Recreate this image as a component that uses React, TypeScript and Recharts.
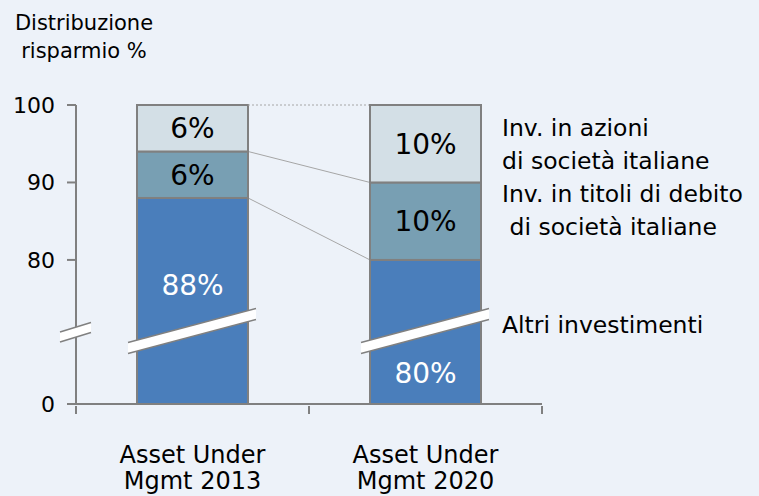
import React from 'react';
import { BarChart, Bar, XAxis, YAxis, LabelList } from 'recharts';

const categories = ['Asset Under\nMgmt 2013', 'Asset Under\nMgmt 2020'];
const altriInvestimenti = [88, 80];
const titoliDebito = [6, 10];
const azioniItaliane = [6, 10];
const yTicks = [0, 80, 90, 100];
const seriesNames = {
  altri: 'Altri investimenti',
  debito: 'Inv. in titoli di debito\n di società italiane',
  azioni: 'Inv. in azioni\ndi società italiane',
};

// broken axis: 0..80 is squeezed into LOW_SPAN units, above 80 the scale is linear
const BREAK_AT = 80;
const LOW_SPAN = 18.6;
const toAxis = (v: number) => (v >= BREAK_AT ? v - BREAK_AT + LOW_SPAN : (v * LOW_SPAN) / BREAK_AT);

const data = categories.map((name, i) => {
  const a = altriInvestimenti[i];
  const d = a + titoliDebito[i];
  const z = d + azioniItaliane[i];
  return {
    name,
    altri: toAxis(a),
    debito: toAxis(d) - toAxis(a),
    azioni: toAxis(z) - toAxis(d),
    altriPct: `${altriInvestimenti[i]}%`,
    debitoPct: `${titoliDebito[i]}%`,
    azioniPct: `${azioniItaliane[i]}%`,
    altriName: seriesNames.altri,
    debitoName: seriesNames.debito,
    azioniName: seriesNames.azioni,
  };
});

const FONT = '"DejaVu Sans", "Liberation Sans", Arial, sans-serif';
const EDGE = '#808080';
const Y_TICK_SIZE = 9;
const Y_TICK_MARGIN = 12;
const X_TICK_OFFSET = 8; // default tickSize + tickMargin of the x axis

// remembers the previous bar of each series so the next one can draw the connector
const prevBar: Record<string, { x: number; y: number; w: number }> = {};

function makeShape(key: string, fill: string, dashed: boolean, withBreak: boolean) {
  return (props: any) => {
    const { x, y, width, height } = props;
    const idx = props.index ?? 0;
    const prev = prevBar[key];
    prevBar[key] = { x, y, w: width };
    const bottom = y + height;
    const lx = x - 9;
    const rx = x + width + 8;
    const ly = bottom - 56;
    const ry = bottom - 90;
    const h = 5.5;
    return (
      <g>
        {idx > 0 && prev && (
          <line
            x1={prev.x + prev.w}
            y1={prev.y}
            x2={x}
            y2={y}
            stroke="#a6a6a6"
            strokeWidth={1}
            strokeDasharray={dashed ? '2 2' : undefined}
          />
        )}
        <rect x={x} y={y} width={width} height={height} fill={fill} stroke={EDGE} strokeWidth={2} />
        {withBreak && (
          <g>
            <polygon points={`${lx},${ly - h} ${rx},${ry - h} ${rx},${ry + h} ${lx},${ly + h}`} fill="#ffffff" />
            <line x1={lx} y1={ly - h} x2={rx} y2={ry - h} stroke={EDGE} strokeWidth={1.5} />
            <line x1={lx} y1={ly + h} x2={rx} y2={ry + h} stroke={EDGE} strokeWidth={1.5} />
          </g>
        )}
      </g>
    );
  };
}

const box = (props: any) => {
  const vb = props.viewBox || {};
  return {
    x: props.x ?? vb.x,
    y: props.y ?? vb.y,
    width: props.width ?? vb.width,
    height: props.height ?? vb.height,
  };
};

const centerLabel = (color: string) => (props: any) => {
  const { x, y, width, height } = box(props);
  return (
    <text x={x + width / 2} y={y + height / 2} dy="0.36em" textAnchor="middle" fill={color} fontSize={28} fontFamily={FONT}>
      {props.value}
    </text>
  );
};

const bottomLabel = (props: any) => {
  const { x, y, width, height } = box(props);
  const idx = props.index ?? 0;
  // first bar: label above the break, second bar: below it
  const baseY = idx === 0 ? y + 97 : y + height - 21;
  return (
    <text x={x + width / 2} y={baseY} textAnchor="middle" fill="#ffffff" fontSize={28} fontFamily={FONT}>
      {props.value}
    </text>
  );
};

const sideLabel = (anchor: 'center' | 'top', dy: number) => (props: any) => {
  const idx = props.index ?? 0;
  if (idx !== categories.length - 1) return null;
  const { x, y, width, height } = box(props);
  const lines = String(props.value).split('\n');
  const base = anchor === 'center' ? y + height / 2 + dy : y + dy;
  return (
    <text x={x + width + 21} y={base} fill="#000" fontSize={23.5} fontFamily={FONT} style={{ whiteSpace: 'pre' }}>
      {lines.map((l, i) => (
        <tspan key={i} x={x + width + 21} y={base + i * 33}>
          {l}
        </tspan>
      ))}
    </text>
  );
};

const YTick = (props: any) => {
  const { x, y, payload, index } = props;
  const label = yTicks[index] ?? '';
  const axisX = x + Y_TICK_SIZE + Y_TICK_MARGIN;
  const lx = axisX - 16;
  const rx = axisX + 15;
  const ly = y - 67;
  const ry = y - 76.5;
  const h = 5;
  return (
    <g>
      <text x={x} y={y} dy="0.36em" textAnchor="end" fill="#000" fontSize={22} fontFamily={FONT}>
        {label}
      </text>
      {index === 0 && payload && (
        <g>
          <polygon points={`${lx},${ly - h} ${rx},${ry - h} ${rx},${ry + h} ${lx},${ly + h}`} fill="#ffffff" />
          <line x1={lx} y1={ly - h} x2={rx} y2={ry - h} stroke={EDGE} strokeWidth={1.5} />
          <line x1={lx} y1={ly + h} x2={rx} y2={ry + h} stroke={EDGE} strokeWidth={1.5} />
        </g>
      )}
    </g>
  );
};

const XTick = (props: any) => {
  const { x, y, payload, index, width, visibleTicksCount } = props;
  const half = width && visibleTicksCount ? width / visibleTicksCount / 2 : 116.5;
  const lines = String(payload.value).split('\n');
  const axisY = y - X_TICK_OFFSET;
  return (
    <g>
      {index === 0 && <line x1={x - half} y1={axisY + 2} x2={x - half} y2={axisY + 10} stroke={EDGE} strokeWidth={2} />}
      <line x1={x + half} y1={axisY + 2} x2={x + half} y2={axisY + 10} stroke={EDGE} strokeWidth={2} />
      <text textAnchor="middle" fill="#000" fontSize={24} fontFamily={FONT}>
        {lines.map((l, i) => (
          <tspan key={i} x={x} y={axisY + 59 + i * 26}>
            {l}
          </tspan>
        ))}
      </text>
    </g>
  );
};

export default function App() {
  return (
    <div
      style={{
        position: 'absolute',
        left: 0,
        top: 0,
        width: 759,
        height: 496,
        background: '#edf2f9',
        fontFamily: FONT,
        overflow: 'hidden',
      }}
    >
      <div
        style={{
          position: 'absolute',
          left: 0,
          top: 9,
          width: 168,
          textAlign: 'center',
          fontSize: 21,
          lineHeight: '28px',
          color: '#000',
        }}
      >
        Distribuzione
        <br />
        risparmio %
      </div>
      <BarChart width={759} height={496} data={data} margin={{ top: 105, right: 217, bottom: 12, left: 16 }}>
        <XAxis
          dataKey="name"
          height={80}
          axisLine={{ stroke: EDGE, strokeWidth: 2 }}
          tickLine={false}
          tick={<XTick />}
          interval={0}
        />
        <YAxis
          type="number"
          width={60}
          domain={[0, toAxis(100)]}
          ticks={yTicks.map(toAxis)}
          interval={0}
          tickSize={Y_TICK_SIZE}
          tickMargin={Y_TICK_MARGIN}
          axisLine={{ stroke: EDGE, strokeWidth: 2 }}
          tickLine={{ stroke: EDGE, strokeWidth: 2 }}
          tick={<YTick />}
        />
        <Bar
          dataKey="altri"
          stackId="s"
          barSize={111}
          fill="#4a7ebb"
          isAnimationActive={false}
          shape={makeShape('altri', '#4a7ebb', false, true)}
        >
          <LabelList dataKey="altriPct" content={bottomLabel} />
          <LabelList dataKey="altriName" content={sideLabel('top', 73)} />
        </Bar>
        <Bar
          dataKey="debito"
          stackId="s"
          barSize={111}
          fill="#789fb3"
          isAnimationActive={false}
          shape={makeShape('debito', '#789fb3', false, false)}
        >
          <LabelList dataKey="debitoPct" content={centerLabel('#000')} />
          <LabelList dataKey="debitoName" content={sideLabel('center', -19.5)} />
        </Bar>
        <Bar
          dataKey="azioni"
          stackId="s"
          barSize={111}
          fill="#d3dfe6"
          isAnimationActive={false}
          shape={makeShape('azioni', '#d3dfe6', true, false)}
        >
          <LabelList dataKey="azioniPct" content={centerLabel('#000')} />
          <LabelList dataKey="azioniName" content={sideLabel('center', -8)} />
        </Bar>
      </BarChart>
    </div>
  );
}
